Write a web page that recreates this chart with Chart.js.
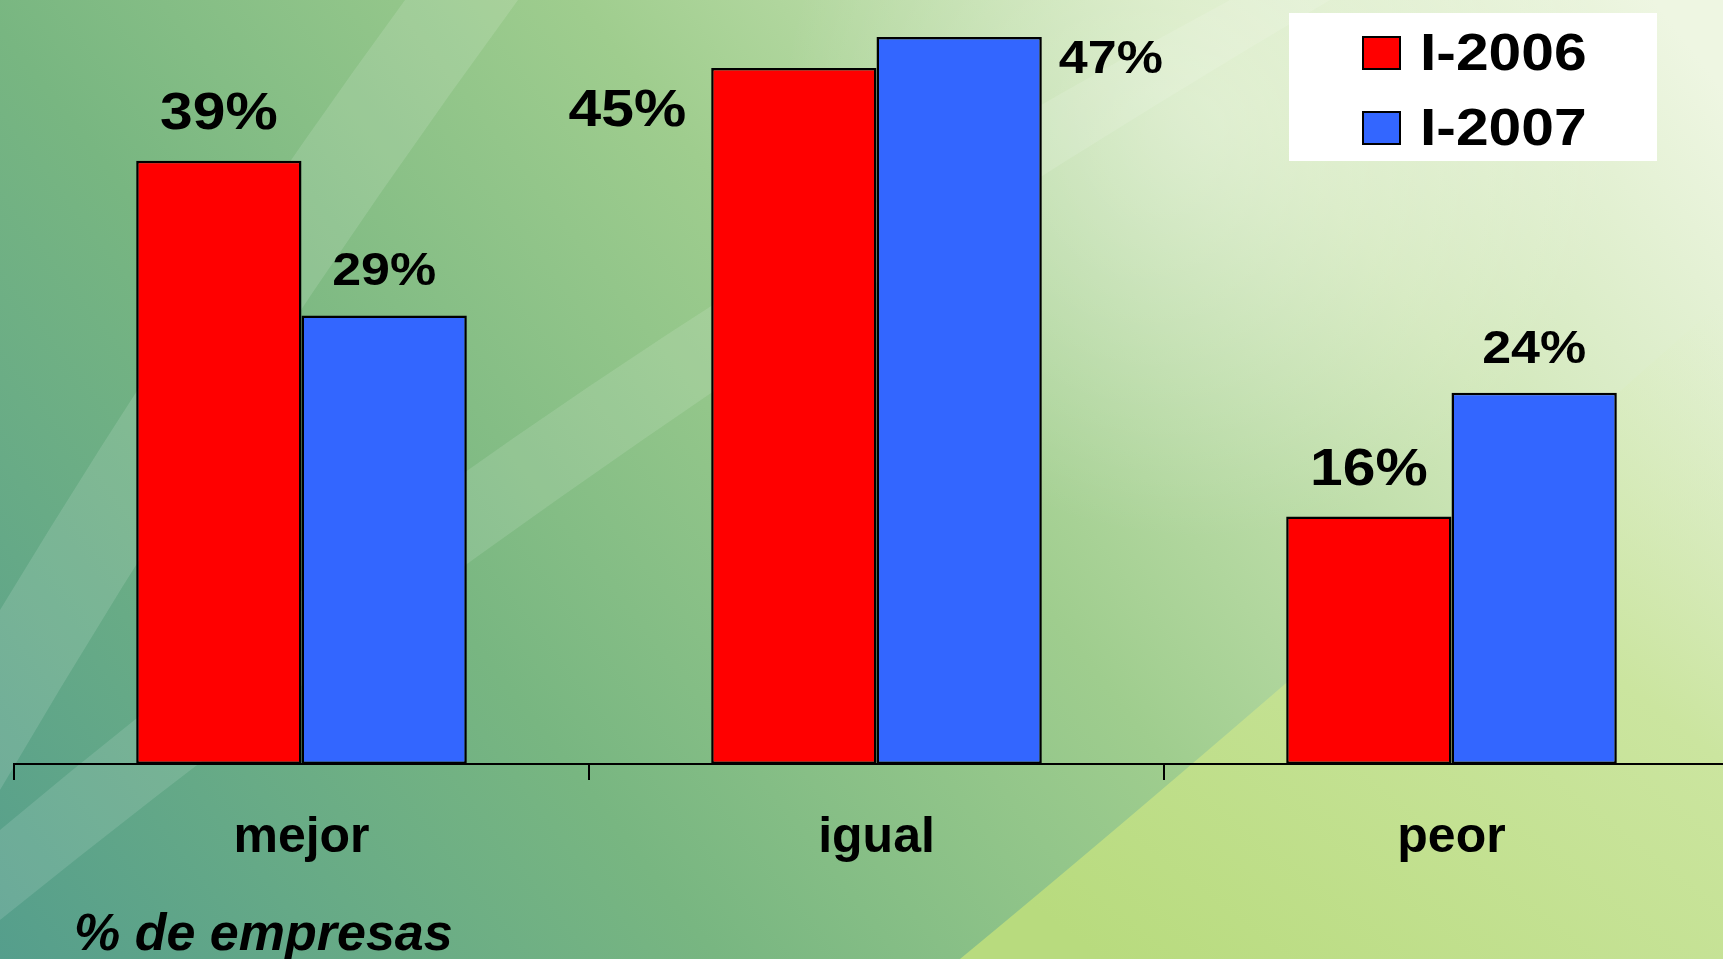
<!DOCTYPE html>
<html>
<head>
<meta charset="utf-8">
<script src="https://cdn.jsdelivr.net/npm/chart.js@4.4.1/dist/chart.umd.min.js"></script>
<style>
  html, body { margin: 0; padding: 0; overflow: hidden; background: #8fc485; }
  #wrap { position: relative; width: 1740px; height: 959px; }
</style>
</head>
<body>
<div id="wrap"><canvas id="chart"></canvas></div>
<script>
const categories = ["mejor", "igual", "peor"];
const seriesNames = ["I-2006", "I-2007"];
const values2006 = [39, 45, 16];
const values2007 = [29, 47, 24];
const axisNote = "% de empresas";

const FONT = "'Liberation Sans', Arial, sans-serif";
const STRETCH = 1.13; // text in the source is drawn a bit wide

// slide-like green background
const background = {
  id: "background",
  beforeDraw(chart) {
    const { ctx, width, height } = chart;
    ctx.save();
    let g = ctx.createLinearGradient(0, height, 1500, -200);
    g.addColorStop(0, "#559e8c");
    g.addColorStop(0.3, "#78b681");
    g.addColorStop(0.55, "#9fcd8e");
    g.addColorStop(0.8, "#d2e8bb");
    g.addColorStop(1, "#eef6e2");
    ctx.fillStyle = g;
    ctx.fillRect(0, 0, width, height);

    // yellow green sweep bottom right
    g = ctx.createLinearGradient(1100, 959, 1650, 250);
    g.addColorStop(0, "#b8db7e");
    g.addColorStop(0.6, "#cbe59f");
    g.addColorStop(1, "rgba(225,240,200,0)");
    ctx.fillStyle = g;
    ctx.beginPath();
    ctx.moveTo(960, 959);
    ctx.quadraticCurveTo(1250, 720, 1723, 300);
    ctx.lineTo(1740, 959);
    ctx.closePath();
    ctx.fill();

    // light streak top left
    ctx.fillStyle = "rgba(255,255,255,0.13)";
    ctx.beginPath();
    ctx.moveTo(405, 0);
    ctx.lineTo(518, 0);
    ctx.quadraticCurveTo(240, 380, 0, 790);
    ctx.lineTo(0, 610);
    ctx.quadraticCurveTo(200, 280, 405, 0);
    ctx.fill();

    // curved light band through the middle
    ctx.fillStyle = "rgba(255,255,255,0.12)";
    ctx.beginPath();
    ctx.moveTo(0, 830);
    ctx.quadraticCurveTo(560, 360, 1230, 0);
    ctx.lineTo(1330, 0);
    ctx.quadraticCurveTo(620, 420, 0, 920);
    ctx.fill();

    // pale glow top right
    g = ctx.createRadialGradient(1200, 120, 20, 1200, 120, 420);
    g.addColorStop(0, "rgba(255,255,255,0.35)");
    g.addColorStop(1, "rgba(255,255,255,0)");
    ctx.fillStyle = g;
    ctx.fillRect(700, 0, 1040, 600);
    ctx.restore();
  }
};

// value labels, legend box and note
const extras = {
  id: "extras",
  afterDatasetsDraw(chart) {
    const { ctx } = chart;
    ctx.save();
    ctx.fillStyle = "#000";
    chart.data.datasets.forEach((ds, di) => {
      const size = di === 0 ? 52 : 46;
      ctx.font = "bold " + size + "px " + FONT;
      chart.getDatasetMeta(di).data.forEach((bar, i) => {
        const txt = ds.data[i] + "%";
        const w = ctx.measureText(txt).width * STRETCH;
        let x, y;
        if (i === 1) {
          // tall bars: label beside the bar
          if (di === 0) {
            x = bar.x - bar.width / 2 - 25 - w;
            y = bar.y + 58;
          } else {
            x = bar.x + bar.width / 2 + 17;
            y = bar.y + 36;
          }
        } else {
          x = bar.x - w / 2;
          y = bar.y - (di === 0 ? 32 : 30);
        }
        ctx.save();
        ctx.translate(x, y);
        ctx.scale(STRETCH, 1);
        ctx.textBaseline = "alphabetic";
        ctx.fillText(txt, 0, 0);
        ctx.restore();
      });
    });

    // legend
    ctx.fillStyle = "#fff";
    ctx.fillRect(1289, 13, 368, 148);
    ctx.font = "bold 52px " + FONT;
    chart.data.datasets.forEach((ds, di) => {
      const top = di === 0 ? 37 : 112;
      ctx.fillStyle = ds.backgroundColor;
      ctx.fillRect(1363, top, 37, 32);
      ctx.strokeStyle = "#000";
      ctx.lineWidth = 2;
      ctx.strokeRect(1363, top, 37, 32);
      ctx.fillStyle = "#000";
      ctx.save();
      ctx.translate(1420, top + 33);
      ctx.scale(STRETCH, 1);
      ctx.fillText(ds.label, 0, 0);
      ctx.restore();
    });

    ctx.font = "italic bold 52px " + FONT;
    ctx.fillText(axisNote, 74, 950);
    ctx.restore();
  }
};

new Chart(document.getElementById("chart"), {
  type: "bar",
  data: {
    labels: categories,
    datasets: [
      {
        label: seriesNames[0],
        data: values2006,
        backgroundColor: "#ff0000",
        borderColor: "#000",
        borderWidth: 2.5,
        borderSkipped: false,
        categoryPercentage: 0.575,
        barPercentage: 1.0
      },
      {
        label: seriesNames[1],
        data: values2007,
        backgroundColor: "#3366ff",
        borderColor: "#000",
        borderWidth: 2.5,
        borderSkipped: false,
        categoryPercentage: 0.575,
        barPercentage: 1.0
      }
    ]
  },
  options: {
    responsive: true,
    maintainAspectRatio: false,
    animation: false,
    layout: { padding: { left: 14, right: 1, top: 0, bottom: 63 } },
    plugins: {
      legend: { display: false },
      tooltip: { enabled: false }
    },
    scales: {
      x: {
        grid: {
          display: true,
          drawOnChartArea: false,
          offset: true,
          tickLength: 16,
          color: "#000",
          lineWidth: 2
        },
        border: { display: true, color: "#000", width: 2 },
        ticks: {
          color: "#000",
          padding: 28,
          font: { family: FONT, weight: "bold", size: 50 }
        }
      },
      y: {
        display: false,
        min: 0,
        max: 49.4
      }
    }
  },
  plugins: [background, extras]
});
</script>
</body>
</html>
